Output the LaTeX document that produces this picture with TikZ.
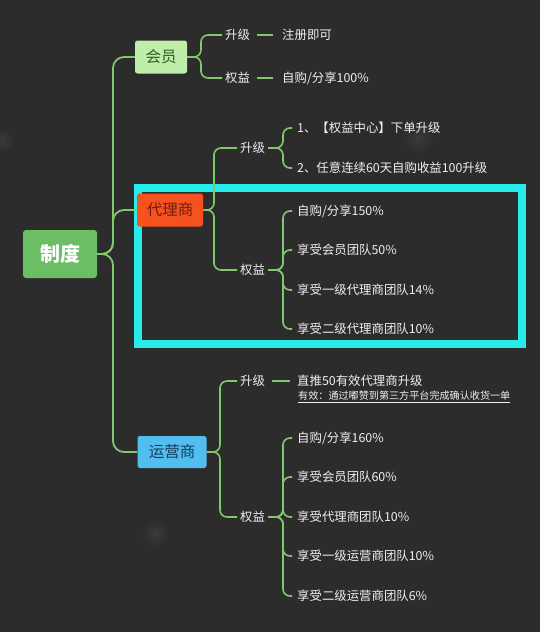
\documentclass[tikz,border=0pt]{standalone}
\usepackage{fontspec}
\setmainfont{Noto Sans CJK SC}
\definecolor{bg}{RGB}{44,44,44}
\definecolor{lg}{RGB}{128,200,108}
\definecolor{tx}{RGB}{240,240,240}
\definecolor{rootfill}{RGB}{108,190,100}
\definecolor{hyfill}{RGB}{190,238,170}
\definecolor{hytext}{RGB}{45,95,40}
\definecolor{dlfill}{RGB}{245,82,32}
\definecolor{dltext}{RGB}{110,30,10}
\definecolor{yyfill}{RGB}{82,190,240}
\definecolor{yytext}{RGB}{20,60,90}
\definecolor{cy}{RGB}{40,236,236}
\definecolor{bokeh}{RGB}{58,58,58}
\begin{document}
\begin{tikzpicture}[x=1pt,y=-1pt,
  conn/.style={draw=lg, line width=1.6pt, rounded corners=7pt},
  trunk/.style={draw=lg, line width=1.8pt, rounded corners=11pt},
  rootbox/.style={fill=rootfill, text=white, rounded corners=3pt, font=\fontsize{20}{22}\selectfont\bfseries, minimum width=74pt, minimum height=48pt, inner sep=0pt},
  l1box/.style={rounded corners=2.5pt, font=\fontsize{15.5}{17}\selectfont, minimum height=33pt, inner sep=0pt},
  lab/.style={text=tx, font=\fontsize{12.4}{14}\selectfont, inner sep=3pt, anchor=west},
  sub/.style={text=tx, font=\fontsize{10.1}{12}\selectfont, inner sep=0pt, anchor=west},
  spot/.style={inner color=bokeh, outer color=bg}
]
\fill[bg] (0,0) rectangle (540,632);
\useasboundingbox (0,0) rectangle (540,632);
% faint background spots
\shade[spot] (418,138) circle (16);
\shade[spot] (155,533) circle (14);
\shade[spot] (2,140) circle (12);

% highlight box
\draw[cy, line width=8.5pt] (138,188) rectangle (522,344);

% main nodes
\node[rootbox] (zd) at (60,254) {制度};
\node[l1box, fill=hyfill, text=hytext, minimum width=52pt] (hy) at (161,57) {会员};
\node[l1box, fill=dlfill, text=dltext, minimum width=66pt] (dl) at (170,210) {代理商};
\node[l1box, fill=yyfill, text=yytext, minimum width=69pt, minimum height=32pt] (yy) at (172,452) {运营商};

% level 2 labels
\node[lab] (hysj) at (222,35) {升级};
\node[lab] (hyqy) at (222,78) {权益};
\node[lab] (dlsj) at (237,148) {升级};
\node[lab] (dlqy) at (237,270) {权益};
\node[lab] (yysj) at (237,381) {升级};
\node[lab] (yyqy) at (237,517) {权益};

% items
\node[lab] (hy1) at (279,35) {注册即可};
\node[lab] (hy2) at (279,78) {自购/分享100\%};

\node[lab] (dls1) at (294,128) {1、【权益中心】下单升级};
\node[lab] (dls2) at (294,168) {2、任意连续60天自购收益100升级};
\node[lab] (dlq1) at (294,211) {自购/分享150\%};
\node[lab] (dlq2) at (294,250) {享受会员团队50\%};
\node[lab] (dlq3) at (294,290) {享受一级代理商团队14\%};
\node[lab] (dlq4) at (294,329) {享受二级代理商团队10\%};

\node[lab] (yys1) at (294,381) {直推50有效代理商升级};
\node[sub] (yysub) at (298,397) {\underline{有效：通过嘟赞到第三方平台完成确认收货一单}};
\node[lab] (yyq1) at (294,438) {自购/分享160\%};
\node[lab] (yyq2) at (294,477) {享受会员团队60\%};
\node[lab] (yyq3) at (294,517) {享受代理商团队10\%};
\node[lab] (yyq4) at (294,556) {享受一级运营商团队10\%};
\node[lab] (yyq5) at (294,596) {享受二级运营商团队6\%};

% trunk connectors
\draw[trunk] (zd.east) -- (113,254) |- (hy.west);
\draw[trunk] (zd.east) -- (113,254) |- (dl.west);
\draw[trunk] (zd.east) -- (113,254) |- (yy.west);

% member
\draw[conn] (hy.east) -- (201,57) |- (hysj.west);
\draw[conn] (hy.east) -- (201,57) |- (hyqy.west);
\draw[conn, shorten <=4pt, shorten >=6pt] (hysj.east) -- (hy1.west);
\draw[conn, shorten <=4pt, shorten >=6pt] (hyqy.east) -- (hy2.west);

% agent
\draw[conn] (dl.east) -- (214,210) |- (dlsj.west);
\draw[conn] (dl.east) -- (214,210) |- (dlqy.west);
\draw[conn, shorten >=2pt] (dlsj.east) -- (283,148) |- (dls1.west);
\draw[conn, shorten >=2pt] (dlsj.east) -- (283,148) |- (dls2.west);
\foreach \t in {dlq1,dlq2,dlq3,dlq4}
  \draw[conn, shorten >=2pt] (dlqy.east) -- (283,270) |- (\t.west);

% operator
\draw[conn] (yy.east) -- (220,452) |- (yysj.west);
\draw[conn] (yy.east) -- (220,452) |- (yyqy.west);
\draw[conn, shorten <=4pt, shorten >=4pt] (yysj.east) -- (yys1.west);
\foreach \t in {yyq1,yyq2,yyq3,yyq4,yyq5}
  \draw[conn, shorten >=2pt] (yyqy.east) -- (283,517) |- (\t.west);
\end{tikzpicture}
\end{document}
